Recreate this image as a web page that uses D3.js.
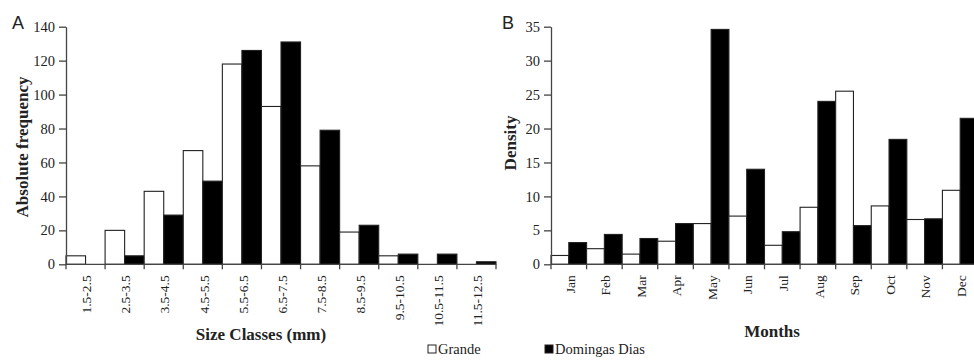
<!DOCTYPE html>
<html>
<head>
<meta charset="utf-8">
<script src="https://d3js.org/d3.v7.min.js"></script>
<style>
  body { margin: 0; background: #fff; }
  svg { display: block; }
</style>
</head>
<body>
<div id="chart"></div>
<script>
const series = ["Grande", "Domingas Dias"];

// Panel A: size classes
const sizeClasses = ["1.5-2.5", "2.5-3.5", "3.5-4.5", "4.5-5.5", "5.5-6.5", "6.5-7.5",
  "7.5-8.5", "8.5-9.5", "9.5-10.5", "10.5-11.5", "11.5-12.5"];
const sizeGrande = [5, 20, 43, 67, 118, 93, 58, 19, 5, 0, 0];
const sizeDomingas = [0, 5, 29, 49, 126, 131, 79, 23, 6, 6, 1.5];
const sizeTicks = [0, 20, 40, 60, 80, 100, 120, 140];

// Panel B: months
const months = ["Jan", "Feb", "Mar", "Apr", "May", "Jun", "Jul", "Aug", "Sep", "Oct", "Nov", "Dec"];
const monthGrande = [1.3, 2.3, 1.5, 3.4, 6.0, 7.1, 2.8, 8.4, 25.5, 8.6, 6.6, 10.9];
const monthDomingas = [3.2, 4.4, 3.8, 6.0, 34.6, 14.0, 4.8, 24.0, 5.7, 18.4, 6.7, 21.5];
const monthTicks = [0, 5, 10, 15, 20, 25, 30, 35];

const SERIF = "'Liberation Serif', 'Times New Roman', 'DejaVu Serif', serif";
const W = 974, H = 363;
const svg = d3.select("#chart").append("svg")
  .attr("width", W)
  .attr("height", H);

const fills = { "Grande": "#fff", "Domingas Dias": "#000" };
const axisColor = "#444";

function panel(opts) {
  const x = d3.scaleBand().domain(opts.cats).range([opts.x0, opts.x1]).padding(0);
  const xs = d3.scaleBand().domain(series).range([0, x.bandwidth()]).padding(0);
  const y = d3.scaleLinear().domain([0, opts.ymax]).range([264.3, 26.7]);

  const g = svg.append("g");

  const rows = opts.cats.map((c, i) => ({ cat: c, vals: [opts.a[i], opts.b[i]] }));

  g.selectAll(".grp")
    .data(rows)
    .enter().append("g")
    .attr("transform", d => `translate(${x(d.cat)},0)`)
    .selectAll("rect")
    .data(d => d.vals.map((v, k) => ({ s: series[k], v })))
    .enter().append("rect")
    .attr("x", d => xs(d.s))
    .attr("width", xs.bandwidth())
    .attr("y", d => y(d.v))
    .attr("height", d => y(0) - y(d.v))
    .attr("fill", d => fills[d.s])
    .attr("stroke", d => d.v > 0 ? "#222" : "none")
    .attr("stroke-width", 1.1);

  // y axis
  const ya = g.append("g")
    .attr("transform", `translate(${opts.x0},0)`)
    .call(d3.axisLeft(y).tickValues(opts.yticks).tickSize(7).tickPadding(4).tickSizeOuter(0));
  ya.attr("font-family", SERIF).attr("font-size", 14.5);
  ya.selectAll("path, line").attr("stroke", axisColor).attr("stroke-width", 1.3);
  ya.selectAll("text").attr("fill", "#222");

  // x axis with ticks on band boundaries
  const xa = g.append("g")
    .attr("transform", `translate(0,${y(0)})`)
    .attr("font-family", SERIF).attr("font-size", 13.5);
  xa.append("line")
    .attr("x1", opts.x0).attr("x2", opts.x1)
    .attr("y1", 0).attr("y2", 0)
    .attr("stroke", axisColor).attr("stroke-width", 1.3);
  const bounds = opts.cats.map(c => x(c)).concat([opts.x1]);
  xa.selectAll(".tk")
    .data(bounds)
    .enter().append("line")
    .attr("x1", d => d).attr("x2", d => d)
    .attr("y1", 0).attr("y2", 5)
    .attr("stroke", axisColor).attr("stroke-width", 1.3);
  xa.selectAll(".lbl")
    .data(opts.cats)
    .enter().append("text")
    .attr("transform", d => `translate(${x(d) + x.bandwidth() / 2 + 1},11) rotate(-90)`)
    .attr("dy", "0.35em")
    .attr("text-anchor", "end")
    .attr("fill", "#222")
    .text(d => d);

  // axis titles
  svg.append("text")
    .attr("transform", `translate(${opts.ytitleX},${opts.ytitleY}) rotate(-90)`)
    .attr("text-anchor", "middle")
    .attr("dy", "0.35em")
    .attr("font-family", SERIF)
    .attr("font-size", 17).attr("font-weight", "bold").attr("fill", "#222")
    .text(opts.ytitle);
  svg.append("text")
    .attr("x", opts.xtitleX).attr("y", opts.xtitleY)
    .attr("text-anchor", "middle")
    .attr("font-family", SERIF)
    .attr("font-size", 17).attr("font-weight", "bold").attr("fill", "#222")
    .text(opts.xtitle);

  // panel letter
  svg.append("text")
    .attr("x", opts.letterX).attr("y", 29)
    .attr("font-family", "'Liberation Sans', Arial, sans-serif")
    .attr("font-size", 18).attr("fill", "#222")
    .text(opts.letter);
}

panel({
  cats: sizeClasses, a: sizeGrande, b: sizeDomingas, ymax: 140, yticks: sizeTicks,
  x0: 66, x1: 496, ytitle: "Absolute frequency", ytitleX: 22, ytitleY: 147,
  xtitle: "Size Classes (mm)", xtitleX: 261, xtitleY: 340, letter: "A", letterX: 12
});

panel({
  cats: months, a: monthGrande, b: monthDomingas, ymax: 35, yticks: monthTicks,
  x0: 551, x1: 978, ytitle: "Density", ytitleX: 510, ytitleY: 143,
  xtitle: "Months", xtitleX: 772, xtitleY: 337, letter: "B", letterX: 502
});

// legend
const legend = svg.append("g")
  .attr("font-family", SERIF).attr("font-size", 14.5);
const legendX = [428, 545];
series.forEach((s, i) => {
  legend.append("rect")
    .attr("x", legendX[i]).attr("y", 345)
    .attr("width", 8).attr("height", 8)
    .attr("fill", fills[s]).attr("stroke", "#222").attr("stroke-width", 1);
  legend.append("text")
    .attr("x", legendX[i] + 10).attr("y", 354)
    .attr("fill", "#222")
    .text(s);
});
</script>
</body>
</html>
